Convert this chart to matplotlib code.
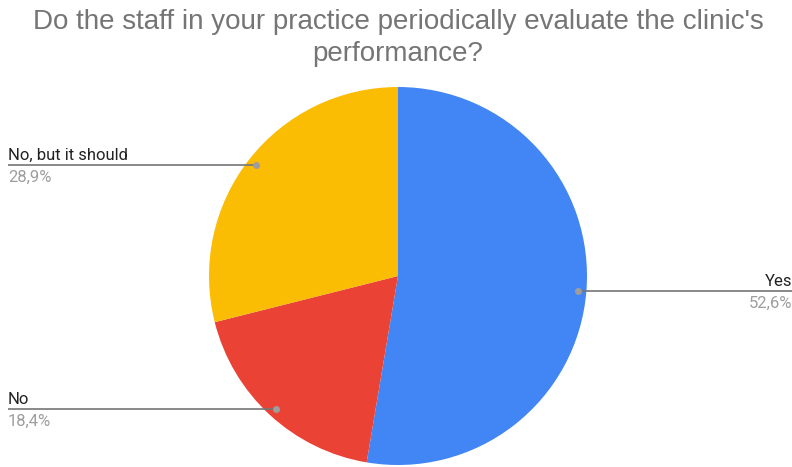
import numpy as np
import matplotlib
matplotlib.use("Agg")
import matplotlib.pyplot as plt

# Survey answers
labels = ["Yes", "No", "No, but it should"]
shares = [52.6, 18.4, 28.9]
pct_text = ["52,6%", "18,4%", "28,9%"]
colors = ["#4285F4", "#EA4335", "#FBBC04"]
title_lines = ["Do the staff in your practice periodically evaluate the clinic's",
               "performance?"]

W, H = 792, 467
fig = plt.figure(figsize=(W / 100, H / 100), dpi=100)
ax = fig.add_axes([0, 0, 1, 1])

cx, cy, r = 398, H - 276, 189
wedges, _ = ax.pie(shares, colors=colors, startangle=90, counterclock=False,
                   radius=r, center=(cx, cy),
                   wedgeprops=dict(linewidth=0))
ax.set_xlim(0, W)
ax.set_ylim(0, H)
ax.set_aspect("equal")
ax.axis("off")

for w, lab, pt in zip(wedges, labels, pct_text):
    mid = np.deg2rad((w.theta1 + w.theta2) / 2)
    px = cx + 0.955 * r * np.cos(mid)
    py = cy + 0.955 * r * np.sin(mid)
    if np.cos(mid) >= 0:
        x_end, ha = W, "right"
    else:
        x_end, ha = 8, "left"
    ax.plot([px, x_end], [py, py], color="#757575", lw=1.2, zorder=3,
            solid_capstyle="butt")
    ax.plot([px], [py], "o", color="#9E9E9E", ms=4, zorder=4)
    ax.text(x_end, py + 5, lab, ha=ha, va="baseline", fontsize=12,
            family="Roboto", color="#222222")
    ax.text(x_end, py - 5, pt, ha=ha, va="top", fontsize=12,
            family="Roboto", color="#9E9E9E")

for i, line in enumerate(title_lines):
    ax.text(cx, H - (29 + 32 * i), line, ha="center", va="baseline",
            fontsize=20, family="Liberation Sans", color="#757575")

fig.savefig("out.png", dpi=100, facecolor="white")
